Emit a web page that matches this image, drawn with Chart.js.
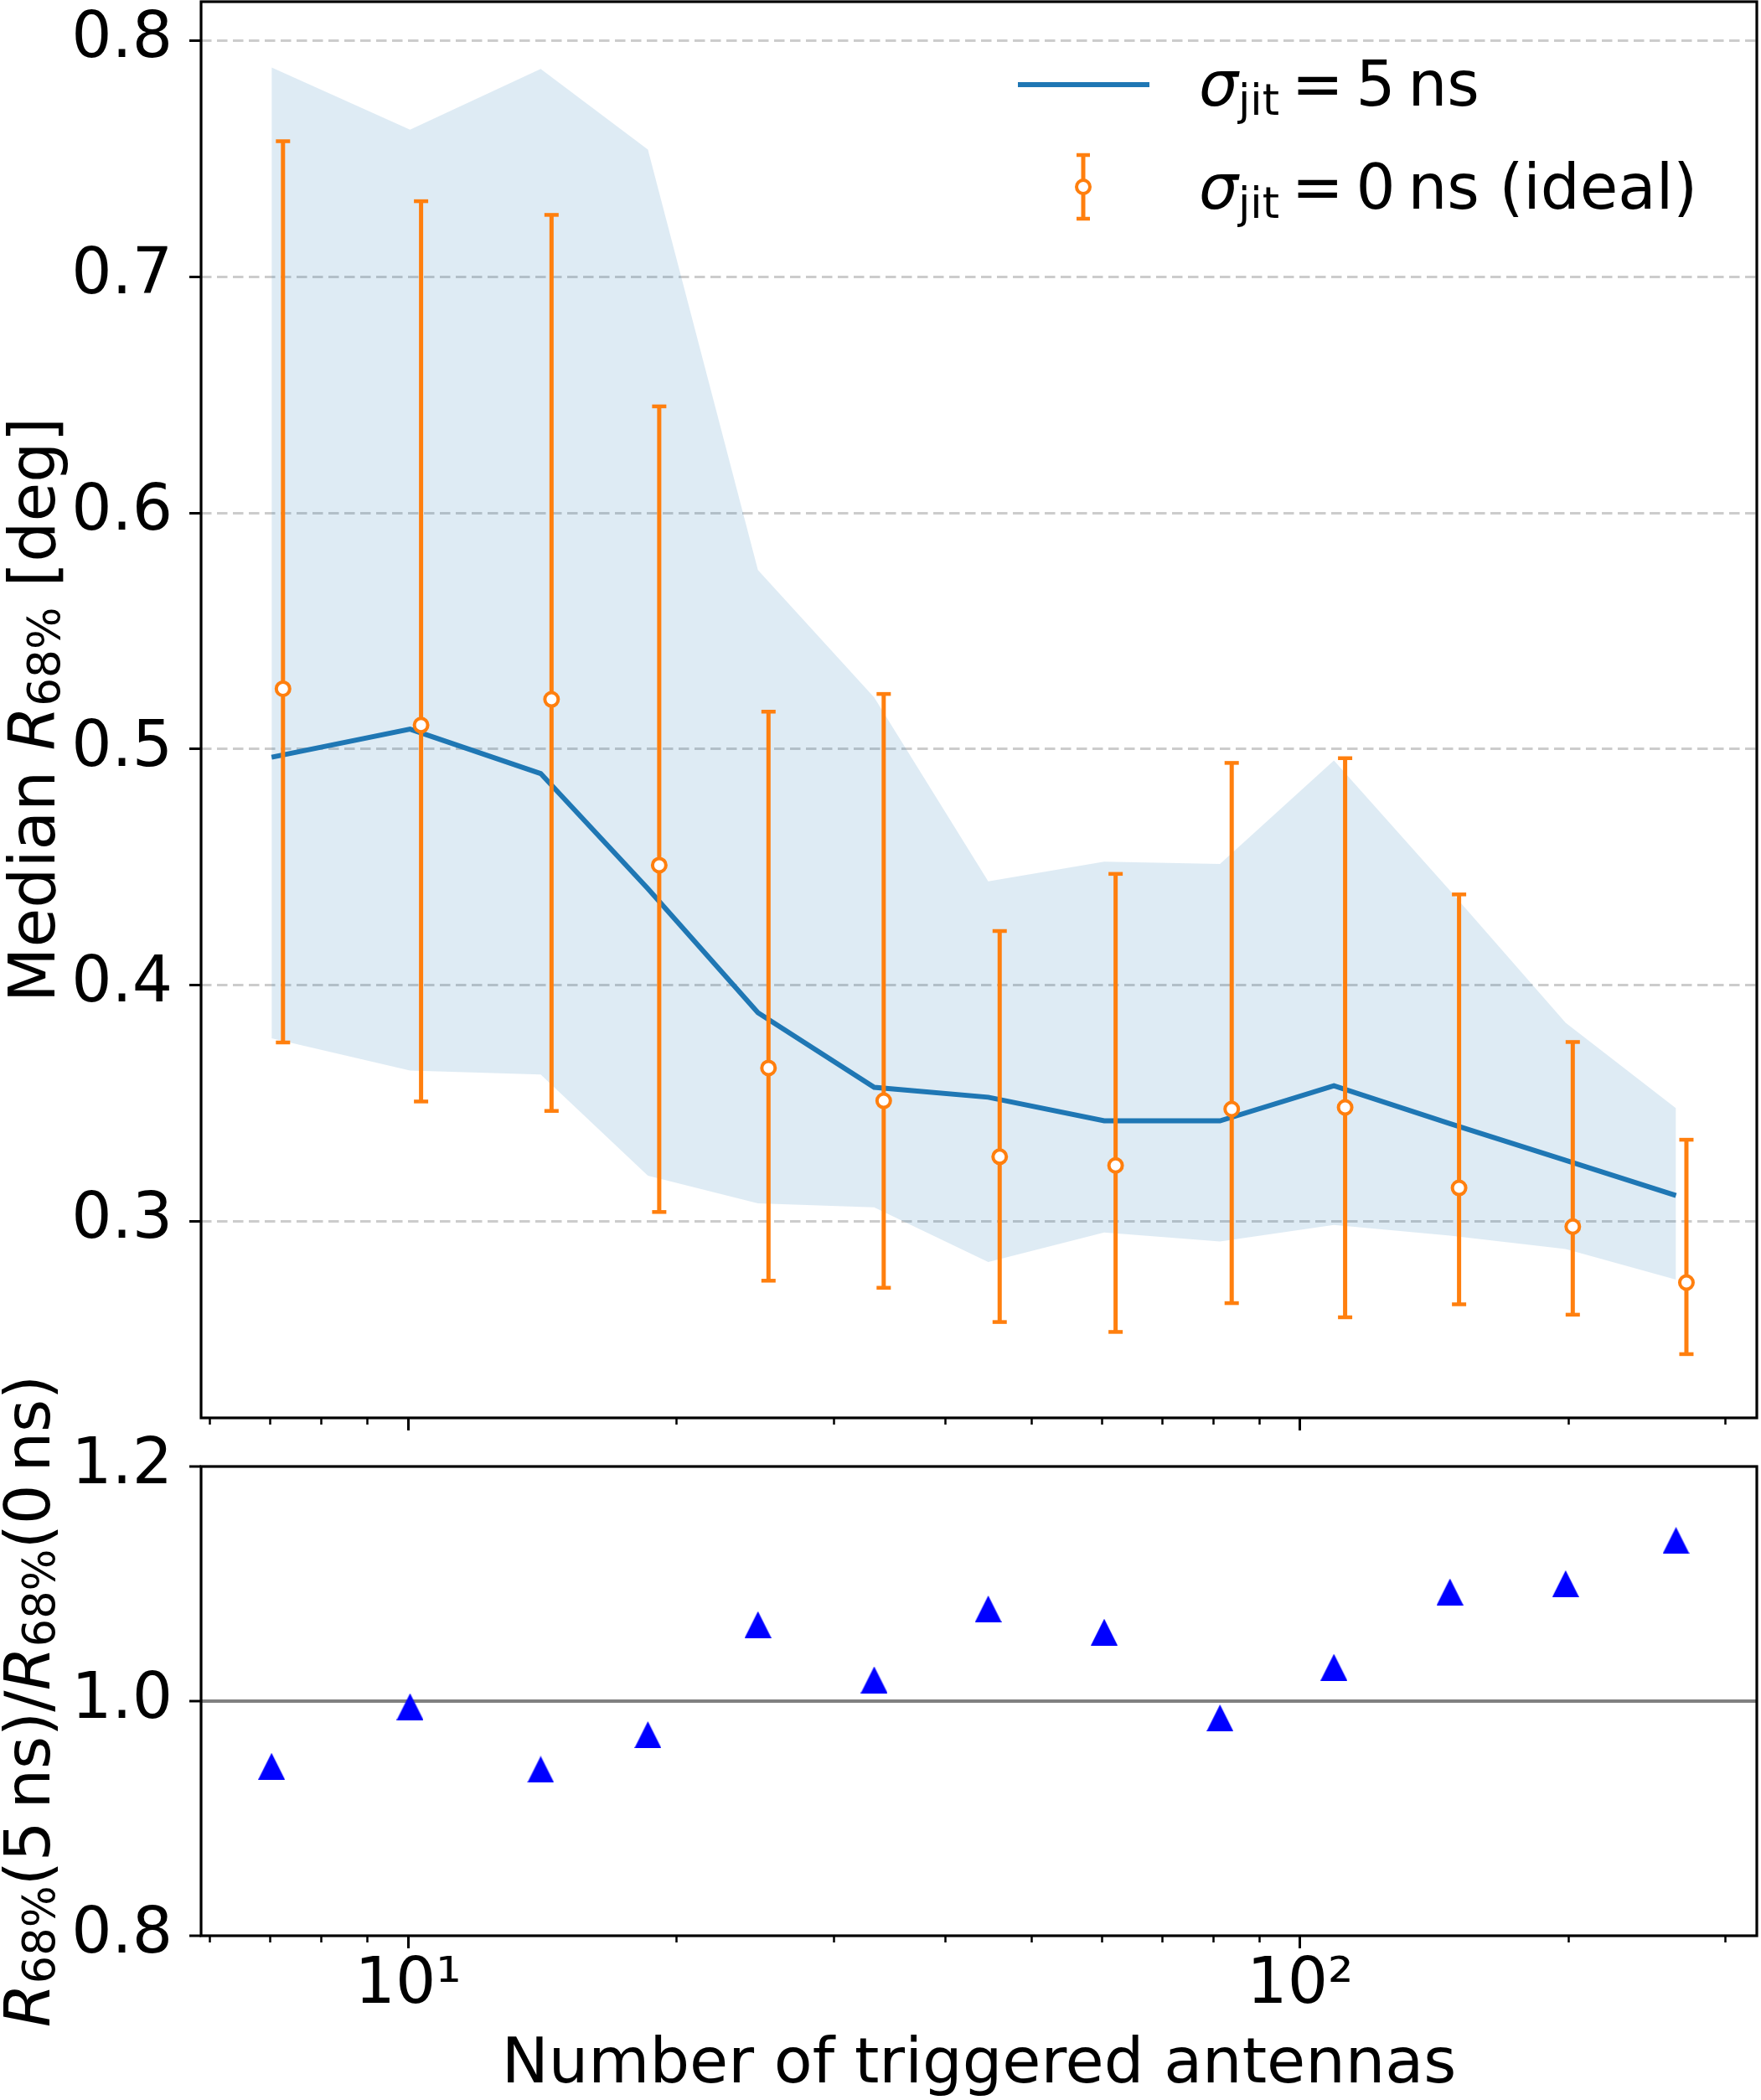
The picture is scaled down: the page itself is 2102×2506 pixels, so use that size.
<!DOCTYPE html>
<html>
<head>
<meta charset="utf-8">
<script src="https://cdn.jsdelivr.net/npm/chart.js@4.4.1/dist/chart.umd.min.js"></script>
<style>
  body { margin: 0; background: #fff; width: 2102px; height: 2506px; position: relative; overflow: hidden; }
  canvas { position: absolute; left: 0; }
  #top { top: 0; }
  #bottom { top: 1560px; }
</style>
</head>
<body>
<canvas id="top" width="2102" height="1720"></canvas>
<canvas id="bottom" width="2102" height="946"></canvas>
<script>
// bin positions (number of triggered antennas)
const nAnt = [7.03, 10.05, 14.08, 18.57, 24.67, 33.3, 44.7, 60.3, 81.3, 109.1, 147.2, 198.4, 263.8];
// the ideal (0 ns) points are drawn slightly shifted to the right
const nIdeal = [7.24, 10.34, 14.48, 19.12, 25.35, 34.13, 46.04, 62.1, 83.8, 112.3, 150.7, 202.1, 271.0];

// sigma_jit = 5 ns: median and 68% band
const medJit = [0.4965, 0.5084, 0.4896, 0.4408, 0.3883, 0.3567, 0.3525, 0.3425, 0.3425, 0.3574, 0.3413, 0.3258, 0.3109];
const bandHi = [0.7886, 0.7623, 0.7880, 0.7539, 0.5758, 0.5218, 0.4439, 0.4523, 0.4513, 0.4951, 0.4400, 0.3840, 0.3478];
const bandLo = [0.3775, 0.3638, 0.3621, 0.3193, 0.3076, 0.3059, 0.2827, 0.2952, 0.2914, 0.2984, 0.2939, 0.2882, 0.2753];

// sigma_jit = 0 ns (ideal): median with error bars
const medIdeal = [0.5255, 0.5101, 0.5210, 0.4508, 0.3649, 0.3510, 0.3273, 0.3236, 0.3475, 0.3482, 0.3141, 0.2977, 0.2740];
const errHi = [0.7574, 0.7320, 0.7262, 0.6451, 0.5158, 0.5233, 0.4229, 0.4471, 0.4941, 0.4961, 0.4384, 0.3759, 0.3345];
const errLo = [0.3757, 0.3507, 0.3467, 0.3039, 0.2748, 0.2718, 0.2573, 0.2531, 0.2653, 0.2593, 0.2648, 0.2604, 0.2437];

// ratio R68(5 ns) / R68(0 ns)
const ratio = [0.9445, 0.9953, 0.9418, 0.9714, 1.0652, 1.0182, 1.0786, 1.0588, 0.9857, 1.0289, 1.0931, 1.1001, 1.1370];

// ticks
const xMajor = [10, 100];
const xMajorLabels = ['10\u00b9', '10\u00b2'];
const xMinor = [6, 7, 8, 9, 20, 30, 40, 50, 60, 70, 80, 90, 200, 300];
const yTicksTop = [0.3, 0.4, 0.5, 0.6, 0.7, 0.8];
const yTicksBottom = [0.8, 1.0, 1.2];

Chart.defaults.font.family = '"DejaVu Sans"';
Chart.defaults.color = '#000';

const X_MIN = 5.86, X_MAX = 325;
const FONT = '"DejaVu Sans"';

const pts = (xs, ys) => xs.map((x, i) => ({ x: x, y: ys[i] }));

// no extra room for labels sticking out, the layout is fixed
function noPad(s) { s.paddingTop = 0; s.paddingBottom = 0; s.paddingLeft = 0; s.paddingRight = 0; }

// draw a label made of runs (normal / italic / subscript) along the baseline
function drawRuns(ctx, runs, x, y, size, center, subDy) {
  const fontOf = r => (r.it ? 'italic ' : '') + (r.sub ? size * 0.7 : size) + 'px ' + FONT;
  let w = 0;
  runs.forEach(r => { ctx.font = fontOf(r); w += ctx.measureText(r.t).width; });
  let cx = center ? x - w / 2 : x;
  ctx.textBaseline = 'alphabetic';
  ctx.textAlign = 'left';
  runs.forEach(r => {
    ctx.font = fontOf(r);
    ctx.fillText(r.t, cx, y + (r.sub ? subDy : 0));
    cx += ctx.measureText(r.t).width;
  });
}

function vTitle(ctx, runs, x, y, size) {
  ctx.save();
  ctx.fillStyle = '#000';
  ctx.translate(x, y);
  ctx.rotate(-Math.PI / 2);
  drawRuns(ctx, runs, 0, 0, size, true, 6);
  ctx.restore();
}

const framePlugin = {
  id: 'frame',
  afterDraw(chart) {
    const a = chart.chartArea, ctx = chart.ctx;
    ctx.save();
    ctx.strokeStyle = '#000';
    ctx.lineWidth = 3.2;
    ctx.strokeRect(a.left, a.top, a.right - a.left, a.bottom - a.top);
    ctx.restore();
  }
};

function minorAxis() {
  return {
    type: 'logarithmic', position: 'bottom', weight: 0, min: X_MIN, max: X_MAX,
    afterBuildTicks: s => { s.ticks = xMinor.map(v => ({ value: v })); },
    afterFit: s => { s.height = 0; noPad(s); },
    ticks: { display: false },
    grid: { drawOnChartArea: false, tickLength: 8, tickWidth: 2.5, tickColor: '#000' },
    border: { display: false }
  };
}

// ---------- top panel ----------
const errSegs = [];
nIdeal.forEach((x, i) => { errSegs.push({ x: x, y: errLo[i] }, { x: x, y: errHi[i] }, { x: x, y: null }); });

const topExtras = {
  id: 'topExtras',
  afterDraw(chart) {
    const ctx = chart.ctx;
    ctx.save();
    // legend handles
    ctx.strokeStyle = '#1f77b4';
    ctx.lineWidth = 6;
    ctx.beginPath(); ctx.moveTo(1215, 101); ctx.lineTo(1372, 101); ctx.stroke();
    ctx.strokeStyle = '#ff7f0e';
    ctx.lineWidth = 5;
    ctx.beginPath(); ctx.moveTo(1293, 185); ctx.lineTo(1293, 261); ctx.stroke();
    ctx.lineWidth = 4.5;
    ctx.beginPath(); ctx.moveTo(1285, 185); ctx.lineTo(1301, 185); ctx.moveTo(1285, 261); ctx.lineTo(1301, 261); ctx.stroke();
    ctx.beginPath(); ctx.arc(1293, 223, 8, 0, Math.PI * 2);
    ctx.fillStyle = '#fff'; ctx.fill();
    ctx.lineWidth = 4; ctx.stroke();
    ctx.fillStyle = '#000';
    drawRuns(ctx, [{ t: '\u03c3', it: true }, { t: 'jit', sub: true }, { t: '\u2009=\u20095\u2009ns' }], 1431, 126, 74, false, 11);
    drawRuns(ctx, [{ t: '\u03c3', it: true }, { t: 'jit', sub: true }, { t: '\u2009=\u20090\u2009ns (ideal)' }], 1431, 249, 74, false, 11);
    ctx.restore();
    const a = chart.chartArea;
    vTitle(ctx, [{ t: 'Median ' }, { t: 'R', it: true }, { t: '68%', sub: true }, { t: ' [deg]' }], 65, (a.top + a.bottom) / 2, 76);
  }
};

new Chart(document.getElementById('top'), {
  type: 'line',
  data: {
    datasets: [
      { data: pts(nAnt, bandHi), fill: '+1', backgroundColor: 'rgba(31,119,180,0.15)', borderColor: 'rgba(0,0,0,0)', borderWidth: 0, pointRadius: 0, order: 5 },
      { data: pts(nAnt, bandLo), fill: false, borderColor: 'rgba(0,0,0,0)', borderWidth: 0, pointRadius: 0, order: 4 },
      { data: pts(nAnt, medJit), fill: false, borderColor: '#1f77b4', borderWidth: 6, pointRadius: 0, order: 3 },
      { data: errSegs, fill: false, borderColor: '#ff7f0e', borderWidth: 5, pointRadius: 0, spanGaps: false, order: 2 },
      { data: pts(nIdeal, errLo).concat(pts(nIdeal, errHi)), showLine: false, pointStyle: 'line', pointRadius: 8.5,
        pointBorderWidth: 4.5, pointBorderColor: '#ff7f0e', order: 1 },
      { data: pts(nIdeal, medIdeal), showLine: false, pointStyle: 'circle', pointRadius: 8,
        pointBorderWidth: 4, pointBackgroundColor: '#fff', pointBorderColor: '#ff7f0e', order: 0 }
    ]
  },
  options: {
    responsive: false,
    animation: false,
    devicePixelRatio: 1,
    events: [],
    layout: { autoPadding: false, padding: { left: 0, top: 2, right: 5, bottom: 0 } },
    plugins: { legend: { display: false }, tooltip: { enabled: false } },
    scales: {
      xMinor: minorAxis(),
      x: {
        type: 'logarithmic', position: 'bottom', weight: 1, min: X_MIN, max: X_MAX,
        afterBuildTicks: s => { s.ticks = xMajor.map(v => ({ value: v })); },
        afterFit: s => { s.height = 28; noPad(s); },
        ticks: { display: false },
        grid: { drawOnChartArea: false, tickLength: 15, tickWidth: 3, tickColor: '#000' },
        border: { display: false }
      },
      y: {
        type: 'linear', min: 0.2167, max: 0.8165,
        afterBuildTicks: s => { s.ticks = yTicksTop.map(v => ({ value: v })); },
        afterFit: s => { s.width = 240; noPad(s); },
        ticks: { font: { size: 76 }, padding: 20, callback: v => v.toFixed(1) },
        grid: { color: '#cccccc', lineWidth: 3, tickLength: 14, tickWidth: 3, tickColor: '#000' },
        border: { display: false, dash: [12.5, 6.5] }
      }
    }
  },
  plugins: [framePlugin, topExtras]
});

// ---------- bottom panel (ratio) ----------
const tri = document.createElement('canvas');
tri.width = 32; tri.height = 32;
(function () {
  const c = tri.getContext('2d');
  c.fillStyle = '#0000ff';
  c.beginPath(); c.moveTo(16, 0); c.lineTo(32, 32); c.lineTo(0, 32); c.closePath(); c.fill();
})();

const bottomExtras = {
  id: 'bottomExtras',
  afterDraw(chart) {
    const a = chart.chartArea;
    vTitle(chart.ctx, [
      { t: 'R', it: true }, { t: '68%', sub: true }, { t: '(5\u2009ns)/' },
      { t: 'R', it: true }, { t: '68%', sub: true }, { t: '(0\u2009ns)' }
    ], 59, (a.top + a.bottom) / 2, 75);
  }
};

new Chart(document.getElementById('bottom'), {
  type: 'scatter',
  data: {
    datasets: [
      { data: pts(nAnt, ratio), pointStyle: tri, pointRadius: 16 }
    ]
  },
  options: {
    responsive: false,
    animation: false,
    devicePixelRatio: 1,
    events: [],
    layout: { autoPadding: false, padding: { left: 0, top: 190, right: 5, bottom: 0 } },
    plugins: { legend: { display: false }, tooltip: { enabled: false } },
    scales: {
      xMinor: minorAxis(),
      x: {
        type: 'logarithmic', position: 'bottom', weight: 1, min: X_MIN, max: X_MAX,
        afterBuildTicks: s => { s.ticks = xMajor.map(v => ({ value: v })); },
        afterFit: s => { s.height = 196; noPad(s); },
        ticks: { font: { size: 76, lineHeight: 1 }, padding: 7, maxRotation: 0, autoSkip: false,
                 callback: v => xMajorLabels[xMajor.indexOf(v)] },
        grid: { drawOnChartArea: false, tickLength: 15, tickWidth: 3, tickColor: '#000' },
        border: { display: false },
        title: { display: true, text: 'Number of triggered antennas', font: { size: 75, lineHeight: 1 },
                 padding: { top: 0, bottom: 3 } }
      },
      y: {
        type: 'linear', min: 0.8, max: 1.2,
        afterBuildTicks: s => { s.ticks = yTicksBottom.map(v => ({ value: v })); },
        afterFit: s => { s.width = 240; noPad(s); },
        ticks: { font: { size: 76 }, padding: 20, callback: v => v.toFixed(1) },
        grid: { color: c => (c.tick && c.tick.value === 1 ? '#808080' : 'rgba(0,0,0,0)'),
                lineWidth: 4, tickLength: 14, tickWidth: 3, tickColor: '#000' },
        border: { display: false }
      }
    }
  },
  plugins: [framePlugin, bottomExtras]
});
</script>
</body>
</html>
